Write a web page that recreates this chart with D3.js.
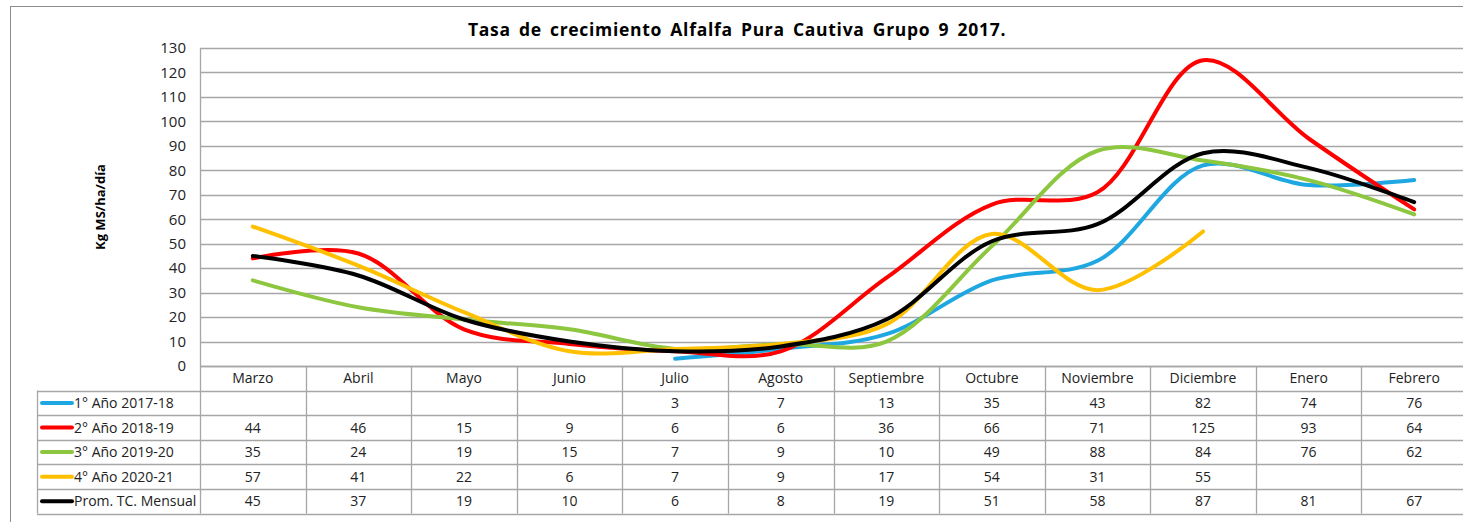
<!DOCTYPE html>
<html>
<head>
<meta charset="utf-8">
<script src="https://cdn.jsdelivr.net/npm/d3@7"></script>
<style>
  body { margin: 0; background: #fff; }
  text { font-family: "Open Sans", "Liberation Sans", sans-serif; }
</style>
</head>
<body>
<div id="chart-area"></div>
<script>
// data
const months = ['Marzo', 'Abril', 'Mayo', 'Junio', 'Julio', 'Agosto', 'Septiembre',
  'Octubre', 'Noviembre', 'Diciembre', 'Enero', 'Febrero'];
const seriesNames = ['1° Año 2017-18', '2° Año 2018-19', '3° Año 2019-20', '4° Año 2020-21', 'Prom. TC. Mensual'];
const year1 = [null, null, null, null, 3, 7, 13, 35, 43, 82, 74, 76];
const year2 = [44, 46, 15, 9, 6, 6, 36, 66, 71, 125, 93, 64];
const year3 = [35, 24, 19, 15, 7, 9, 10, 49, 88, 84, 76, 62];
const year4 = [57, 41, 22, 6, 7, 9, 17, 54, 31, 55, null, null];
const average = [45, 37, 19, 10, 6, 8, 19, 51, 58, 87, 81, 67];
const yTicks = [0, 10, 20, 30, 40, 50, 60, 70, 80, 90, 100, 110, 120, 130];
const colors = ['#1ea7e1', '#ff0000', '#8dc63f', '#ffc000', '#000000'];

const series = [year1, year2, year3, year4, average];

const W = 1463, H = 522;
const margin = { top: 48, left: 200 };
const plotW = 1267;
const plotH = 318;
const rowH = 24.6;

const svg = d3.select('#chart-area').append('svg')
  .attr('width', W)
  .attr('height', H);

// outer chart border
svg.append('rect')
  .attr('x', 10.5).attr('y', 6.5)
  .attr('width', W + 20).attr('height', H + 20)
  .attr('fill', 'none')
  .attr('stroke', '#8c8c8c');

svg.append('text')
  .attr('x', 737).attr('y', 36)
  .attr('text-anchor', 'middle')
  .attr('font-size', '17.5px')
  .attr('font-weight', 'bold')
  .attr('letter-spacing', '0.7px')
  .attr('word-spacing', '3px')
  .text('Tasa de crecimiento Alfalfa Pura Cautiva Grupo 9 2017.');

const g = svg.append('g')
  .attr('transform', `translate(${margin.left}, ${margin.top})`);

const x = d3.scaleBand()
  .domain(months)
  .range([0, plotW]);

const y = d3.scaleLinear()
  .domain([0, 130])
  .range([plotH, 0]);

// gridlines
g.selectAll('.grid')
  .data(yTicks)
  .enter().append('line')
  .attr('class', 'grid')
  .attr('x1', 0).attr('x2', plotW)
  .attr('y1', d => Math.round(y(d)) + 0.5)
  .attr('y2', d => Math.round(y(d)) + 0.5)
  .attr('stroke', '#a6a6a6')
  .attr('stroke-width', 1.3);

// y axis
const yAxisCall = d3.axisLeft(y)
  .tickValues(yTicks)
  .tickSize(0)
  .tickPadding(14);
const yAxisGroup = g.append('g').call(yAxisCall);
yAxisGroup.select('.domain').attr('stroke', '#a6a6a6').attr('stroke-width', 1.3);
yAxisGroup.selectAll('text')
  .attr('font-size', '15px')
  .attr('fill', '#222')
  .attr('font-family', '"Open Sans", sans-serif');

// y label
svg.append('text')
  .attr('transform', 'translate(105, 207) rotate(-90)')
  .attr('text-anchor', 'middle')
  .attr('font-size', '13px')
  .attr('font-weight', 'bold')
  .text('Kg MS/ha/día');

// lines
const line = d3.line()
  .defined(d => d != null)
  .x((d, i) => x(months[i]) + x.bandwidth() / 2)
  .y(d => y(d))
  .curve(d3.curveCatmullRom.alpha(0.5));

g.selectAll('.series')
  .data(series)
  .enter().append('path')
  .attr('class', 'series')
  .attr('d', d => line(d))
  .attr('fill', 'none')
  .attr('stroke', (d, i) => colors[i])
  .attr('stroke-width', 4)
  .attr('stroke-linecap', 'round');

// data table
const table = svg.append('g')
  .attr('transform', `translate(0, ${margin.top + plotH})`);
const tableLeft = 37;
const nRows = series.length;
const lineColor = '#a6a6a6';

// horizontal rules
d3.range(nRows + 2).forEach(r => {
  table.append('line')
    .attr('x1', r === 0 ? margin.left : tableLeft)
    .attr('x2', margin.left + plotW)
    .attr('y1', Math.round(r * rowH) + 0.5)
    .attr('y2', Math.round(r * rowH) + 0.5)
    .attr('stroke', lineColor)
    .attr('stroke-width', 1.3);
});

// vertical rules
table.append('line')
  .attr('x1', tableLeft + 0.5).attr('x2', tableLeft + 0.5)
  .attr('y1', rowH).attr('y2', (nRows + 1) * rowH)
  .attr('stroke', lineColor).attr('stroke-width', 1.3);
months.forEach(m => {
  const xx = Math.round(margin.left + x(m)) + 0.5;
  table.append('line')
    .attr('x1', xx).attr('x2', xx)
    .attr('y1', 0).attr('y2', (nRows + 1) * rowH)
    .attr('stroke', lineColor).attr('stroke-width', 1.3);
});

// month labels
table.selectAll('.month')
  .data(months)
  .enter().append('text')
  .attr('class', 'month')
  .attr('x', d => margin.left + x(d) + x.bandwidth() / 2)
  .attr('y', rowH / 2 + 5)
  .attr('text-anchor', 'middle')
  .attr('font-size', '14px')
  .attr('fill', '#222')
  .text(d => d);

// rows
series.forEach((s, r) => {
  const cy = (r + 1) * rowH + rowH / 2;
  table.append('line')
    .attr('x1', 42).attr('x2', 72)
    .attr('y1', cy).attr('y2', cy)
    .attr('stroke', colors[r])
    .attr('stroke-width', 4)
    .attr('stroke-linecap', 'round');
  table.append('text')
    .attr('x', 74)
    .attr('y', cy + 5)
    .attr('font-size', '14px')
    .attr('fill', '#222')
    .text(seriesNames[r]);
  table.selectAll(`.val${r}`)
    .data(s)
    .enter().append('text')
    .attr('x', (d, i) => margin.left + x(months[i]) + x.bandwidth() / 2)
    .attr('y', cy + 5)
    .attr('text-anchor', 'middle')
    .attr('font-size', '14px')
    .attr('fill', '#222')
    .text(d => d == null ? '' : d);
});
</script>
</body>
</html>
